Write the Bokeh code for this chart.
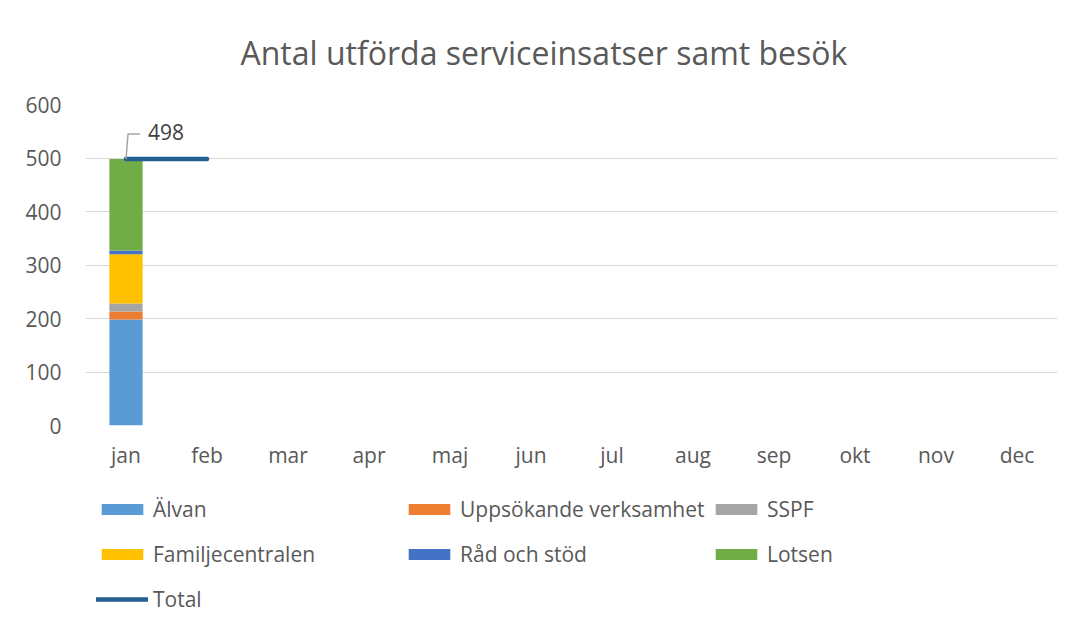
from bokeh.plotting import figure
from bokeh.layouts import column
from bokeh.models import Range1d, FixedTicker, Legend, LegendItem, Label, ColumnDataSource
from bokeh.embed import file_html
from bokeh.resources import INLINE

NaN = float("nan")

months = ["jan", "feb", "mar", "apr", "maj", "jun", "jul", "aug", "sep", "okt", "nov", "dec"]
alvan = [198, NaN, NaN, NaN, NaN, NaN, NaN, NaN, NaN, NaN, NaN, NaN]
uppsokande = [15, NaN, NaN, NaN, NaN, NaN, NaN, NaN, NaN, NaN, NaN, NaN]
sspf = [15, NaN, NaN, NaN, NaN, NaN, NaN, NaN, NaN, NaN, NaN, NaN]
familjecentralen = [92, NaN, NaN, NaN, NaN, NaN, NaN, NaN, NaN, NaN, NaN, NaN]
rad_och_stod = [7, NaN, NaN, NaN, NaN, NaN, NaN, NaN, NaN, NaN, NaN, NaN]
lotsen = [171, NaN, NaN, NaN, NaN, NaN, NaN, NaN, NaN, NaN, NaN, NaN]
total = [498, 498, NaN, NaN, NaN, NaN, NaN, NaN, NaN, NaN, NaN, NaN]
y_ticks = [0, 100, 200, 300, 400, 500, 600]

series_names = ["Älvan", "Uppsökande verksamhet", "SSPF", "Familjecentralen", "Råd och stöd", "Lotsen"]
series_keys = ["alvan", "uppsokande", "sspf", "familjecentralen", "rad", "lotsen"]
colors = ["#5B9BD5", "#ED7D31", "#A5A5A5", "#FFC000", "#4472C4", "#70AD47"]
total_color = "#255E91"

FONT = "Open Sans"
TXT = "#595959"
FW, FH = 972, 321

xs = list(range(len(months)))
source = ColumnDataSource(dict(
    x=xs, alvan=alvan, uppsokande=uppsokande, sspf=sspf,
    familjecentralen=familjecentralen, rad=rad_och_stod, lotsen=lotsen, total=total,
))

p = figure(frame_width=FW, frame_height=FH,
           min_border_left=85, min_border_right=21, min_border_top=104, min_border_bottom=45,
           x_range=Range1d(-0.5, len(months) - 0.5), y_range=Range1d(y_ticks[0], y_ticks[-1]),
           output_backend="svg", toolbar_location=None)
p.outline_line_color = None
p.background_fill_color = "white"
p.border_fill_color = "white"

bars = p.vbar_stack(series_keys, x="x", width=0.41, color=colors, line_color=None, source=source)
tline = p.line("x", "total", source=source, line_color=total_color, line_width=4.5, line_cap="round")

# data label for the total with leader line
px_x = (len(months)) / FW
px_y = (y_ticks[-1] - y_ticks[0]) / FH
x0, y0 = xs[0], total[0]
p.line([x0, x0 + 2 * px_x, x0 + 14 * px_x], [y0, y0 + 25 * px_y, y0 + 25 * px_y],
       line_color="#A6A6A6", line_width=1.5)
p.add_layout(Label(x=x0, y=y0, text=str(total[0]), x_offset=22, y_offset=27,
                   text_baseline="middle", text_font=FONT, text_font_size="21px",
                   text_color="#404040"))

# title
p.title.text = "Antal utförda serviceinsatser samt besök"
p.title.align = "left"
p.title.offset = 155
p.title.vertical_align = "middle"
p.title.text_font = FONT
p.title.text_font_size = "32px"
p.title.text_font_style = "normal"
p.title.text_color = TXT
p.title.standoff = 59

# axes
p.xaxis.ticker = FixedTicker(ticks=xs)
p.xaxis.major_label_overrides = {i: m for i, m in zip(xs, months)}
p.yaxis.ticker = FixedTicker(ticks=y_ticks)
for ax in (p.xaxis, p.yaxis):
    ax.axis_line_color = None
    ax.major_tick_line_color = None
    ax.minor_tick_line_color = None
    ax.major_label_text_font = FONT
    ax.major_label_text_font_size = "21px"
    ax.major_label_text_color = TXT
p.xaxis.major_label_standoff = 9
p.yaxis.major_label_standoff = 18
p.xgrid.visible = False
p.ygrid.grid_line_color = "#D9D9D9"
p.ygrid.grid_line_width = 1

# legend panel: a second figure whose placeholder renderers hold no drawable point
lg = figure(frame_width=FW, frame_height=145,
            min_border_left=85, min_border_right=21, min_border_top=6, min_border_bottom=0,
            x_range=Range1d(0, 1), y_range=Range1d(0, 1),
            x_axis_location=None, y_axis_location=None,
            output_backend="svg", toolbar_location=None)
lg.grid.visible = False
lg.outline_line_color = None
lg.background_fill_color = "white"
lg.border_fill_color = "white"

items = []
for n, c in zip(series_names, colors):
    r = lg.vbar(x=[NaN], top=[NaN], width=0.41, color=c, line_color=None)
    items.append(LegendItem(label=n, renderers=[r]))
rt = lg.line(x=[NaN], y=[NaN], line_color=total_color, line_width=4.5, line_cap="round")
items.append(LegendItem(label="Total", renderers=[rt]))

legend = Legend(items=items, location="top_left", orientation="horizontal", ncols=3,
                glyph_width=52, glyph_height=14, label_standoff=5, label_width=246,
                label_height=41, spacing=4, padding=0, margin=11,
                border_line_color=None, background_fill_alpha=0,
                label_text_font=FONT, label_text_font_size="21px", label_text_color=TXT)
lg.add_layout(legend)

layout = column(p, lg, spacing=0)
open("out.html", "w").write(file_html(layout, INLINE))
